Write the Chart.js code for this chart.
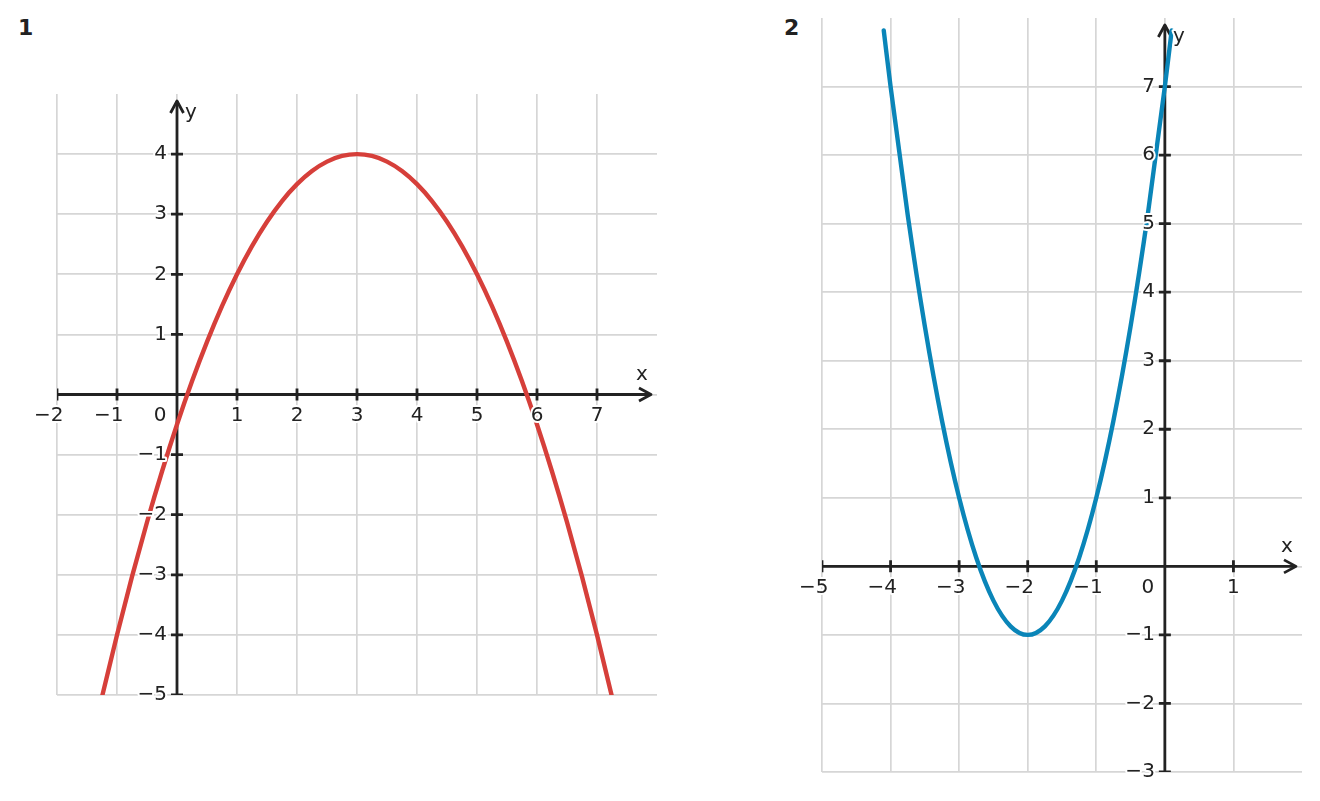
<!DOCTYPE html>
<html><head><meta charset="utf-8">
<script src="https://cdn.jsdelivr.net/npm/chart.js@4.4.1/dist/chart.umd.min.js"></script>
<style>
html,body{margin:0;padding:0;background:#fff;width:1320px;height:801px;overflow:hidden;font-family:"DejaVu Sans",sans-serif;}
.panel{position:absolute;top:0;height:801px;}
.num{position:absolute;font:bold 22px "DejaVu Sans",sans-serif;color:#222;line-height:26px;}
</style></head><body>
<div class="num" style="left:18px;top:15px">1</div>
<div class="num" style="left:784px;top:15px">2</div>
<div class="panel" style="left:0;width:700px"><canvas id="c1" width="700" height="801"></canvas></div>
<div class="panel" style="left:700px;width:620px"><canvas id="c2" width="620" height="801"></canvas></div>
<script>
// ---- Chart 1 data (red parabola) ----
const curve1X = [-1.5,-1.25,-1,-0.75,-0.5,-0.25,0,0.25,0.5,0.75,1,1.25,1.5,1.75,2,2.25,2.5,2.75,3,3.25,3.5,3.75,4,4.25,4.5,4.75,5,5.25,5.5,5.75,6,6.25,6.5,6.75,7,7.25,7.5];
const curve1Y = [-6.125,-5.031,-4,-3.031,-2.125,-1.281,-0.5,0.219,0.875,1.469,2,2.469,2.875,3.219,3.5,3.719,3.875,3.969,4,3.969,3.875,3.719,3.5,3.219,2.875,2.469,2,1.469,0.875,0.219,-0.5,-1.281,-2.125,-3.031,-4,-5.031,-6.125];
const xTicks1 = [-2,-1,0,1,2,3,4,5,6,7];
const yTicks1 = [-5,-4,-3,-2,-1,1,2,3,4];
const xRange1 = [-2, 8];
const yRange1 = [-5, 5];

// ---- Chart 2 data (blue parabola) ----
const curve2X = [-4.1,-4,-3.75,-3.5,-3.25,-3,-2.75,-2.5,-2.25,-2,-1.75,-1.5,-1.25,-1,-0.75,-0.5,-0.25,0,0.1];
const curve2Y = [7.82,7,5.125,3.5,2.125,1,0.125,-0.5,-0.875,-1,-0.875,-0.5,0.125,1,2.125,3.5,5.125,7,7.82];
const xTicks2 = [-5,-4,-3,-2,-1,0,1];
const yTicks2 = [-3,-2,-1,1,2,3,4,5,6,7];
const xRange2 = [-5, 2];
const yRange2 = [-3, 8];

const AXIS = '#222222';
const GRID = '#d6d6d6';
const FONT = '20px "DejaVu Sans", sans-serif';

function fmt(v){ return v < 0 ? '\u2212' + (-v) : String(v); }

function axesPlugin(xTicks, yTicks){
  return {
    id: 'axesThroughOrigin',
    beforeDatasetsDraw(chart){
      const ctx = chart.ctx, a = chart.chartArea, sx = chart.scales.x, sy = chart.scales.y;
      const x0 = sx.getPixelForValue(0), y0 = sy.getPixelForValue(0);
      const xTip = a.right - 6, yTip = a.top + 7;
      ctx.save();
      ctx.beginPath(); ctx.rect(a.left, a.top, a.right - a.left, a.bottom - a.top); ctx.clip();
      ctx.strokeStyle = AXIS; ctx.lineWidth = 2.8; ctx.lineCap = 'butt'; ctx.lineJoin = 'round';
      ctx.beginPath();
      ctx.moveTo(a.left, y0); ctx.lineTo(xTip, y0);
      ctx.moveTo(x0, a.bottom); ctx.lineTo(x0, yTip);
      ctx.stroke();
      ctx.beginPath();
      ctx.moveTo(xTip - 12, y0 - 6.5); ctx.lineTo(xTip, y0); ctx.lineTo(xTip - 12, y0 + 6.5);
      ctx.moveTo(x0 - 6.5, yTip + 12); ctx.lineTo(x0, yTip); ctx.lineTo(x0 + 6.5, yTip + 12);
      ctx.stroke();
      ctx.beginPath();
      xTicks.forEach(v => { if (v === 0) return; const p = sx.getPixelForValue(v); ctx.moveTo(p, y0 - 6); ctx.lineTo(p, y0 + 6); });
      yTicks.forEach(v => { const p = sy.getPixelForValue(v); ctx.moveTo(x0 - 6, p); ctx.lineTo(x0 + 6, p); });
      ctx.stroke();
      ctx.restore();
    },
    afterDatasetsDraw(chart){
      const ctx = chart.ctx, a = chart.chartArea, sx = chart.scales.x, sy = chart.scales.y;
      const x0 = sx.getPixelForValue(0), y0 = sy.getPixelForValue(0);
      const xTip = a.right - 6, yTip = a.top + 7;
      ctx.save();
      ctx.font = FONT; ctx.fillStyle = AXIS; ctx.strokeStyle = '#ffffff'; ctx.lineWidth = 4; ctx.lineJoin = 'round';
      const put = (t, x, y) => { ctx.strokeText(t, x, y); ctx.fillText(t, x, y); };
      ctx.textBaseline = 'middle';
      // x labels: digits centred on the tick, minus sign hanging to the left
      ctx.textAlign = 'right';
      xTicks.forEach(v => {
        const p = v === 0 ? x0 - 17 : sx.getPixelForValue(v);
        const dw = ctx.measureText(String(Math.abs(v))).width;
        put(fmt(v), p + dw / 2, y0 + 21);
      });
      yTicks.forEach(v => { put(fmt(v), x0 - 10, sy.getPixelForValue(v)); });
      ctx.textAlign = 'center';
      put('x', xTip - 9, y0 - 20);
      put('y', x0 + 14, yTip + 12);
      ctx.restore();
    }
  };
}

function makeChart(id, xs, ys, color, xr, yr, xTicks, yTicks, pad){
  const pts = xs.map((x, i) => ({x: x, y: ys[i]}));
  const gridColor = (max) => (c) => (c.tick && c.tick.value === max) ? 'rgba(0,0,0,0)' : GRID;
  return new Chart(document.getElementById(id), {
    type: 'scatter',
    data: { datasets: [{
      data: pts, showLine: true, borderColor: color, borderWidth: 4.4,
      pointRadius: 0, cubicInterpolationMode: 'monotone', clip: 0,
      borderCapStyle: 'round', borderJoinStyle: 'round'
    }]},
    options: {
      responsive: false, animation: false, events: [],
      layout: { padding: pad },
      plugins: { legend: {display: false}, tooltip: {enabled: false} },
      scales: {
        x: { type: 'linear', min: xr[0], max: xr[1], ticks: {display: false, stepSize: 1},
             grid: {color: gridColor(xr[1]), lineWidth: 1.7, drawTicks: false}, border: {display: false},
             afterFit: s => { s.height = 0; } },
        y: { type: 'linear', min: yr[0], max: yr[1], ticks: {display: false, stepSize: 1},
             grid: {color: gridColor(yr[1]), lineWidth: 1.7, drawTicks: false}, border: {display: false},
             afterFit: s => { s.width = 0; } }
      }
    },
    plugins: [axesPlugin(xTicks, yTicks)]
  });
}

makeChart('c1', curve1X, curve1Y, '#d63f3a', xRange1, yRange1, xTicks1, yTicks1, {left: 57, right: 43, top: 94, bottom: 106});
makeChart('c2', curve2X, curve2Y, '#0a85b8', xRange2, yRange2, xTicks2, yTicks2, {left: 122, right: 18, top: 18, bottom: 29});
</script>
</body></html>
